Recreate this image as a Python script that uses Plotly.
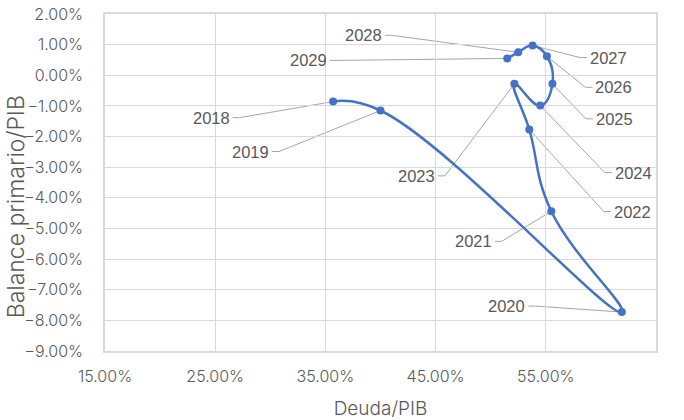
import plotly.graph_objects as go

years = ["2018", "2019", "2020", "2021", "2022", "2023", "2024", "2025", "2026", "2027", "2028", "2029"]
deuda_pib = [0.357, 0.400, 0.619, 0.555, 0.535, 0.5215, 0.545, 0.556, 0.551, 0.538, 0.525, 0.515]
balance_pib = [-0.0086, -0.0115, -0.0773, -0.0444, -0.0177, -0.0028, -0.0099, -0.0028, 0.0062, 0.0097, 0.0075, 0.0055]

x_ticks = [0.15, 0.25, 0.35, 0.45, 0.55, 0.65]
y_ticks = [0.02, 0.01, 0.0, -0.01, -0.02, -0.03, -0.04, -0.05, -0.06, -0.07, -0.08, -0.09]

x_title = "Deuda/PIB"
y_title = "Balance primario/PIB"

# label offsets (pixels, y downward) of each year label centre relative to its point
label_offsets = {
    "2018": (-122, 16), "2019": (-130, 41), "2020": (-115, -6), "2021": (-78, 30),
    "2022": (103, 82), "2023": (-98, 92), "2024": (93, 67), "2025": (62, 35),
    "2026": (67, 31), "2027": (76, 12), "2028": (-155, -17), "2029": (-199, 2),
}

BLUE = "#4472C4"
GRAY_TXT = "#595959"
LEADER = "#a6a6a6"
GRID = "#d9d9d9"
TICK_FONT = dict(family="Inter", size=16, color=GRAY_TXT, weight=300)
HALF_W, GAP, STUB = 18.5, 3, 7

fig = go.Figure()
fig.add_trace(go.Scatter(
    x=deuda_pib, y=balance_pib, mode="lines+markers",
    line=dict(color=BLUE, width=2.5, shape="spline", smoothing=1.3),
    marker=dict(color=BLUE, size=8),
    hoverinfo="skip", showlegend=False,
))

annotations = []
shapes = []
for yr, xv, yv in zip(years, deuda_pib, balance_pib):
    ax, ay = label_offsets[yr]
    annotations.append(dict(
        x=xv, y=yv, xref="x", yref="y", text=yr, showarrow=False,
        xshift=ax, yshift=-ay, xanchor="center", yanchor="middle",
        font=dict(family="Liberation Sans", size=16.5, color=GRAY_TXT),
    ))
    if ax < 0:
        sx = ax + HALF_W + GAP
        ex = sx + STUB
    else:
        sx = ax - HALF_W - GAP
        ex = sx - STUB
    shapes.append(dict(
        type="path", xref="x", yref="y", xsizemode="pixel", ysizemode="pixel",
        xanchor=xv, yanchor=yv,
        path=f"M {sx},{-ay} L {ex},{-ay} L 0,0",
        line=dict(color=LEADER, width=1), layer="below",
    ))

# y-axis title (placed slightly below the plot centre, as in the reference)
annotations.append(dict(
    text=y_title, textangle=-90, showarrow=False,
    xref="paper", yref="paper", x=-0.160, y=0.429,
    xanchor="center", yanchor="middle",
    font=dict(family="Inter", size=23, color=GRAY_TXT, weight=300),
))

fig.update_layout(
    width=684, height=420,
    margin=dict(l=105, r=28, t=14, b=69),
    paper_bgcolor="white", plot_bgcolor="white",
    annotations=annotations, shapes=shapes,
    xaxis=dict(
        range=[0.15, 0.65], tickvals=x_ticks, tickformat=".2%",
        showgrid=True, gridcolor=GRID, gridwidth=1,
        showline=True, linecolor=GRID, linewidth=1.5, mirror=True,
        zeroline=False, ticks="", tickfont=TICK_FONT, ticklabelstandoff=10,
        automargin=False,
        title=dict(text=x_title, font=dict(family="Inter", size=19, color=GRAY_TXT, weight=300), standoff=19),
    ),
    yaxis=dict(
        range=[-0.09, 0.02], tickvals=y_ticks, tickformat=".2%",
        showgrid=True, gridcolor=GRID, gridwidth=1,
        showline=True, linecolor=GRID, linewidth=1.5, mirror=True,
        zeroline=False, ticks="", tickfont=TICK_FONT, ticklabelstandoff=17,
        automargin=False,
    ),
)

fig.write_html("out.html", config={"displayModeBar": False},
               post_script="document.body.style.margin='0px';")
